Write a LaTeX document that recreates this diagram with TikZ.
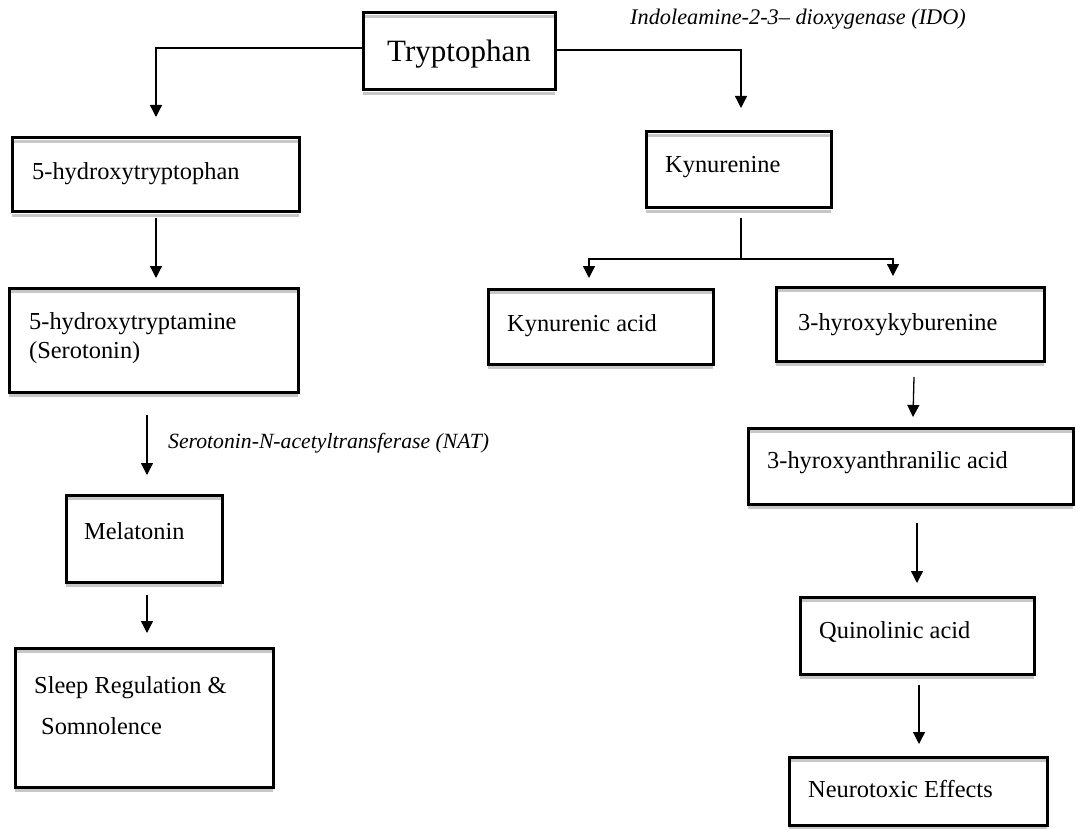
\documentclass[tikz,border=0pt]{standalone}
\usepackage{fontspec}
\setmainfont{Liberation Serif}
\usetikzlibrary{arrows.meta}
\tikzset{
  x=1pt, y=1pt,
  box/.style={draw, line width=3pt, inner sep=0pt, outer sep=0pt, anchor=north west},
  shadeline/.style={draw=black!22, line width=2.6pt},
  lbl/.style={anchor=base west, inner sep=0pt, font=\fontsize{24.4}{29}\selectfont},
  enz/.style={anchor=base west, inner sep=0pt, font=\fontsize{#1}{26}\selectfont\itshape},
  conn/.style={line width=1.3pt},
  arr/.style={conn, -{Triangle[width=12pt,length=12pt]}},
}
\begin{document}
\begin{tikzpicture}
\useasboundingbox (0,0) rectangle (1076,-829);
% boxes
\node[box, minimum width=192pt, minimum height=77pt]  (tryp)  at (363,-13)  {};
\node[box, minimum width=287pt, minimum height=74pt]  (h1)    at (12,-138)  {};
\node[box, minimum width=289pt, minimum height=104pt] (h2)    at (9,-288)   {};
\node[box, minimum width=156pt, minimum height=87pt]  (mel)   at (66,-495)  {};
\node[box, minimum width=258pt, minimum height=139pt] (sleep) at (15,-648)  {};
\node[box, minimum width=185pt, minimum height=76pt]  (kyn)   at (646,-132) {};
\node[box, minimum width=225pt, minimum height=75pt]  (ka)    at (488,-289) {};
\node[box, minimum width=268pt, minimum height=74pt]  (hk)    at (776,-287) {};
\node[box, minimum width=325pt, minimum height=76pt]  (ha)    at (748,-428) {};
\node[box, minimum width=234pt, minimum height=77pt]  (q)     at (800,-597) {};
\node[box, minimum width=258pt, minimum height=68pt]  (nt)    at (789,-757) {};
% shadow strips
\foreach \n in {tryp,h1,h2,mel,sleep,kyn,ka,hk,ha,q,nt}{
  \draw[shadeline] ([xshift=1.5pt,yshift=-3.3pt]\n.north west) -- ([xshift=-1.5pt,yshift=-3.3pt]\n.north east);
  \draw[shadeline] ([yshift=-3.3pt]\n.south west) -- ([yshift=-3.3pt]\n.south east);
}
% texts
\node[anchor=base, inner sep=0pt, font=\fontsize{31}{36}\selectfont] (ttryp) at (459,-62) {Tryptophan};
\node[lbl] (th1) at (32,-180) {5-hydroxytryptophan};
\node[lbl] (th2a) at (29,-329) {5-hydroxytryptamine};
\node[lbl] (th2b) at (29,-358) {(Serotonin)};
\node[lbl] (tmel) at (84,-539) {Melatonin};
\node[lbl] (tsl1) at (34,-693) {Sleep Regulation \&};
\node[lbl] (tsl2) at (41,-734) {Somnolence};
\node[lbl] (tkyn) at (665,-173) {Kynurenine};
\node[lbl] (tka) at (507,-331) {Kynurenic acid};
\node[lbl] (thk) at (798,-330) {3-hyroxykyburenine};
\node[lbl] (tha) at (767,-468) {3-hyroxyanthranilic acid};
\node[lbl] (tq) at (819,-638) {Quinolinic acid};
\node[lbl] (tnt) at (808,-797) {Neurotoxic Effects};
\node[enz=22.3] (tido) at (630,-25) {Indoleamine-2-3– dioxygenase (IDO)};
\node[enz=21.7] (tnat) at (168,-448) {Serotonin-N-acetyltransferase (NAT)};
% connectors
\draw[arr] ([yshift=3.5pt]tryp.west) -| ([xshift=0.5pt,yshift=21pt]h1.north);
\draw[arr] ([yshift=1.5pt]tryp.east) -| ([xshift=2.5pt,yshift=24pt]kyn.north);
\draw[arr] ([xshift=0.5pt,yshift=-6pt]h1.south) -- ([xshift=0.5pt,yshift=10pt]h1.south |- h2.north);
\draw[arr] ([xshift=3pt,yshift=-23pt]mel.north |- h2.south) -- ([xshift=3pt,yshift=20pt]mel.north);
\draw[arr] ([xshift=3pt,yshift=-13pt]mel.south) -- ([xshift=3pt,yshift=15pt]sleep.north);
\coordinate (split) at ([xshift=2.5pt,yshift=-51pt]kyn.south);
\draw[conn] ([xshift=2.5pt,yshift=-10pt]kyn.south) -- (split);
\draw[arr] (split) -| ([xshift=-11.5pt,yshift=11pt]ka.north);
\draw[arr] (split) -| ([xshift=-17pt,yshift=11pt]hk.north);
\draw[arr] ([xshift=4pt,yshift=-16pt]hk.south) -- ([xshift=2.5pt,yshift=11pt]ha.north);
\draw[arr] ([xshift=0pt,yshift=-19pt]q.north |- ha.south) -- ([yshift=14pt]q.north);
\draw[arr] ([xshift=2pt,yshift=-11pt]q.south) -- ([xshift=1pt,yshift=13pt]nt.north);
\end{tikzpicture}
\end{document}
